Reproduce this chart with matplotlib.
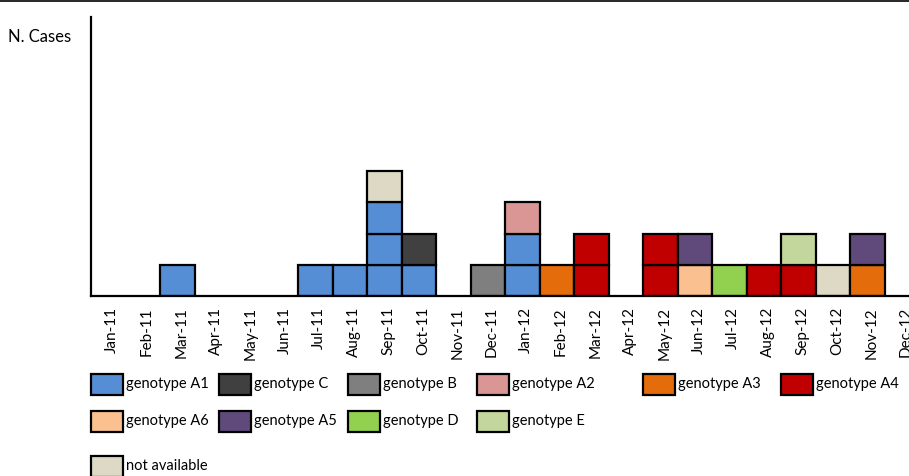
import matplotlib
matplotlib.use('Agg')
import matplotlib.pyplot as plt
from matplotlib.patches import Rectangle
from matplotlib.transforms import ScaledTranslation

plt.rcParams['font.family'] = ['Lato', 'DejaVu Sans']

months = ['Jan-11', 'Feb-11', 'Mar-11', 'Apr-11', 'May-11', 'Jun-11',
          'Jul-11', 'Aug-11', 'Sep-11', 'Oct-11', 'Nov-11', 'Dec-11',
          'Jan-12', 'Feb-12', 'Mar-12', 'Apr-12', 'May-12', 'Jun-12',
          'Jul-12', 'Aug-12', 'Sep-12', 'Oct-12', 'Nov-12', 'Dec-12']

# cases per month, stacked bottom to top
cases = [[], [], ['A1'], [], [], [],
         ['A1'], ['A1'], ['A1', 'A1', 'A1', 'NA'], ['A1', 'C'], [], ['B'],
         ['A1', 'A1', 'A2'], ['A3'], ['A4', 'A4'], [], ['A4', 'A4'], ['A6', 'A5'],
         ['D'], ['A4'], ['A4', 'E'], ['NA'], ['A3', 'A5'], []]

genotypes = ['A1', 'C', 'B', 'A2', 'A3', 'A4', 'A6', 'A5', 'D', 'E', 'NA']
labels = ['genotype A1', 'genotype C', 'genotype B', 'genotype A2', 'genotype A3',
          'genotype A4', 'genotype A6', 'genotype A5', 'genotype D', 'genotype E',
          'not available']
colors = {'A1': '#558ED5', 'C': '#404040', 'B': '#7F7F7F', 'A2': '#D99694',
          'A3': '#E46C0A', 'A4': '#C00000', 'A6': '#FAC090', 'A5': '#604A7B',
          'D': '#92D050', 'E': '#C3D69B', 'NA': '#DDD9C4'}

W, H = 909, 476
fig = plt.figure(figsize=(W / 100, H / 100), dpi=100)

# dark strip on top edge
fig.patches.append(Rectangle((0, 1 - 2 / H), 1, 2 / H, transform=fig.transFigure,
                             facecolor='#2b2b2b', edgecolor='none'))

ax = fig.add_axes([91 / W, (H - 296) / H, 828 / W, 279 / H])
for i, stack in enumerate(cases):
    for k, g in enumerate(stack):
        ax.bar(i, 1, bottom=k, width=1, align='edge', color=colors[g],
               edgecolor='black', linewidth=1.6, zorder=3)

ax.set_xlim(0, 24)
ax.set_ylim(0, 8.93)
ax.set_yticks([])
ax.set_xticks([i + 0.5 for i in range(len(months))])
ax.set_xticklabels(months, rotation=90, fontsize=11)
ax.tick_params(axis='x', length=0, pad=8)
shift = ScaledTranslation(4 / 100, 0, fig.dpi_scale_trans)
for t in ax.get_xticklabels():
    t.set_transform(t.get_transform() + shift)
ax.spines['top'].set_visible(False)
ax.spines['right'].set_visible(False)
for s in ['left', 'bottom']:
    ax.spines[s].set_linewidth(1.6)
    ax.spines[s].set_zorder(4)

fig.text(8 / W, 1 - 37 / H, 'N. Cases', fontsize=12, va='center', ha='left')

# legend laid out by hand
slots = [(91, 384), (219, 384), (348, 384), (477, 384), (643, 384), (781, 384),
         (91, 421), (219, 421), (348, 421), (477, 421),
         (91, 466)]
for g, lab, (x, y) in zip(genotypes, labels, slots):
    fig.patches.append(Rectangle((x / W, 1 - (y + 10.5) / H), 32 / W, 21 / H,
                                 transform=fig.transFigure, facecolor=colors[g],
                                 edgecolor='black', linewidth=1.6))
    fig.text((x + 35) / W, 1 - y / H, lab, fontsize=10.5, va='center', ha='left')

fig.savefig('out.png', dpi=100)
